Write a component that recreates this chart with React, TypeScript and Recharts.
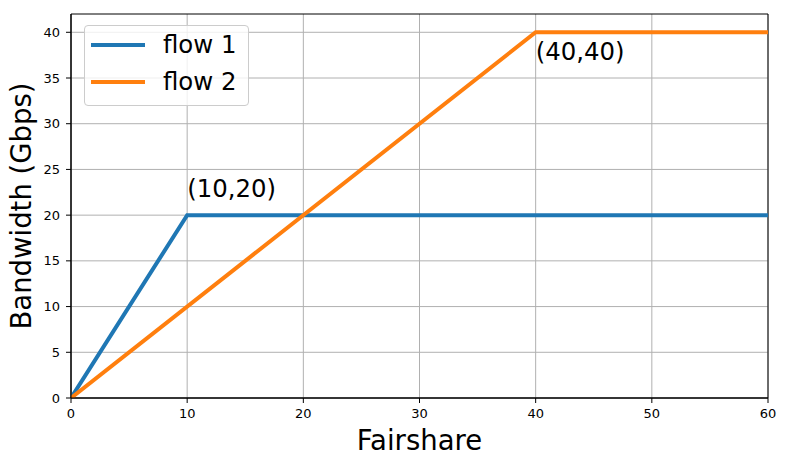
import React from 'react';
import {
  LineChart,
  Line,
  XAxis,
  YAxis,
  CartesianGrid,
  Legend,
  ReferenceDot,
  ReferenceArea,
} from 'recharts';

const flow1Fairshare = [0, 10, 60];
const flow1Bandwidth = [0, 20, 20];
const flow2Fairshare = [0, 40, 60];
const flow2Bandwidth = [0, 40, 40];

const seriesNames = ['flow 1', 'flow 2'];
const seriesColors = ['#1f77b4', '#ff7f0e'];

const xTicks = [0, 10, 20, 30, 40, 50, 60];
const yTicks = [0, 5, 10, 15, 20, 25, 30, 35, 40];

const annotationX = [10, 40];
const annotationY = [22, 37];
const annotationText = ['(10,20)', '(40,40)'];

const flow1 = flow1Fairshare.map((x, i) => ({ x, y: flow1Bandwidth[i] }));
const flow2 = flow2Fairshare.map((x, i) => ({ x, y: flow2Bandwidth[i] }));

const FONT = "'DejaVu Sans', sans-serif";

const renderXLabel = (props: any) => {
  const vb = props.viewBox;
  return (
    <text x={vb.x + vb.width / 2} y={vb.y + 52} textAnchor="middle" fontSize={27.5} fontFamily={FONT} fill="#000">
      Fairshare
    </text>
  );
};

const renderYLabel = (props: any) => {
  const vb = props.viewBox;
  const cx = vb.x + 31;
  const cy = vb.y + vb.height / 2;
  return (
    <text x={cx} y={cy} textAnchor="middle" fontSize={27.5} fontFamily={FONT} fill="#000" transform={`rotate(-90, ${cx}, ${cy})`}>
      Bandwidth (Gbps)
    </text>
  );
};

const makeAnnotation = (text: string) => (props: any) => {
  const vb = props.viewBox;
  return (
    <text x={vb.x} y={vb.y} textAnchor="start" fontSize={24.4} fontFamily={FONT} fill="#000">
      {text}
    </text>
  );
};

const renderLegend = () => (
  <div
    style={{
      width: 163,
      height: 79,
      border: '1px solid #cccccc',
      borderRadius: 4,
      background: 'rgba(255,255,255,0.8)',
      position: 'relative',
      fontFamily: FONT,
    }}
  >
    {seriesNames.map((name, i) => (
      <div key={name} style={{ position: 'absolute', left: 0, top: i === 0 ? 2 : 39, height: 36, width: 163 }}>
        <div style={{ position: 'absolute', left: 6, top: 15, width: 54, height: 4, background: seriesColors[i] }} />
        <div style={{ position: 'absolute', left: 78, top: 0, fontSize: 24.4, lineHeight: '34px', color: '#000', whiteSpace: 'nowrap' }}>
          {name}
        </div>
      </div>
    ))}
  </div>
);

export default function App() {
  return (
    <div style={{ position: 'absolute', left: 0, top: 0, width: 787, height: 465, background: '#fff' }}>
      <LineChart width={787} height={465} margin={{ top: 14, right: 19, left: 0, bottom: 0 }}>
        <CartesianGrid stroke="#b0b0b0" strokeWidth={1} horizontalValues={yTicks} verticalValues={xTicks} />
        <XAxis
          type="number"
          dataKey="x"
          domain={[0, 60]}
          ticks={xTicks}
          allowDataOverflow
          height={67}
          tickSize={5}
          tickMargin={6}
          stroke="#000"
          tick={{ fill: '#000', fontSize: 13, fontFamily: FONT }}
          tickLine={{ stroke: '#000' }}
          label={{ content: renderXLabel }}
        />
        <YAxis
          type="number"
          domain={[0, 42]}
          ticks={yTicks}
          allowDataOverflow
          width={71}
          tickSize={5}
          tickMargin={6}
          stroke="#000"
          tick={{ fill: '#000', fontSize: 13, fontFamily: FONT }}
          tickLine={{ stroke: '#000' }}
          label={{ content: renderYLabel }}
        />
        <Legend
          layout="vertical"
          align="center"
          verticalAlign="middle"
          wrapperStyle={{ left: 84, top: 25, width: 165, height: 81 }}
          content={renderLegend}
        />
        <Line
          data={flow1}
          dataKey="y"
          name={seriesNames[0]}
          stroke={seriesColors[0]}
          strokeWidth={4}
          dot={false}
          activeDot={false}
          isAnimationActive={false}
        />
        <Line
          data={flow2}
          dataKey="y"
          name={seriesNames[1]}
          stroke={seriesColors[1]}
          strokeWidth={4}
          dot={false}
          activeDot={false}
          isAnimationActive={false}
        />
        <ReferenceArea x1={0} x2={60} y1={0} y2={42} fill="none" stroke="#000" strokeWidth={1} ifOverflow="visible" />
        {annotationText.map((t, i) => (
          <ReferenceDot
            key={t}
            x={annotationX[i]}
            y={annotationY[i]}
            r={0}
            fill="none"
            stroke="none"
            label={{ content: makeAnnotation(t) }}
          />
        ))}
      </LineChart>
    </div>
  );
}
